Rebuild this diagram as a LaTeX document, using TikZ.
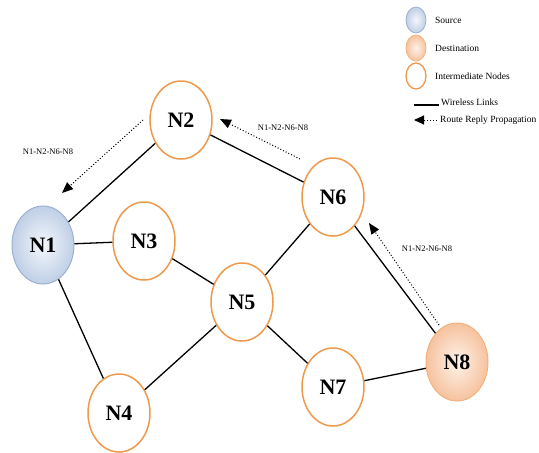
\documentclass[tikz,border=0pt]{standalone}
\usepackage{fontspec}
\setmainfont{Liberation Serif}
\usetikzlibrary{arrows.meta,shapes.geometric}
\definecolor{ringorange}{HTML}{EE9A4D}
\definecolor{srcedge}{HTML}{9CB1D0}
\definecolor{srcin}{HTML}{F4F7FC}
\definecolor{srcout}{HTML}{BFCFE6}
\definecolor{dstedge}{HTML}{F2B27E}
\definecolor{dstin}{HTML}{FEF3EA}
\definecolor{dstout}{HTML}{F6C29E}
\tikzset{
  netnode/.style={ellipse,minimum width=62pt,minimum height=78pt,inner sep=0pt,
    font=\fontsize{22}{24}\selectfont\bfseries},
  midnode/.style={netnode,draw=ringorange,line width=1.5pt,fill=white},
  srcnode/.style={netnode,draw=srcedge,line width=1pt,inner color=srcin,outer color=srcout},
  dstnode/.style={netnode,draw=dstedge,line width=1pt,inner color=dstin,outer color=dstout},
  keynode/.style={ellipse,minimum width=20pt,minimum height=26pt,inner sep=0pt},
  keytext/.style={anchor=west,inner sep=0pt,font=\fontsize{9.5}{11}\selectfont},
  routetext/.style={inner sep=0pt,font=\fontsize{8.5}{10}\selectfont},
  link/.style={line width=1.3pt},
  reply/.style={dotted,line width=1pt,-{Triangle[length=11pt,width=9pt]}}
}
\begin{document}
\begin{tikzpicture}[x=1pt,y=-1pt]
\path[use as bounding box] (0,0) rectangle (539,453);
\node[srcnode] (n1) at (43,245) {N1};
\node[midnode] (n2) at (181,120) {N2};
\node[midnode] (n3) at (144,241) {N3};
\node[midnode] (n4) at (119,413) {N4};
\node[midnode] (n5) at (242,302) {N5};
\node[midnode] (n6) at (333,197) {N6};
\node[midnode] (n7) at (333,387) {N7};
\node[dstnode] (n8) at (457,362) {N8};
\draw[link] (n1) -- (n2);
\draw[link] (n1) -- (n3);
\draw[link] (n1) -- (n4);
\draw[link] (n3) -- (n5);
\draw[link] (n4) -- (n5);
\draw[link] (n5) -- (n6);
\draw[link] (n5) -- (n7);
\draw[link] (n2) -- (n6);
\draw[link] (n6) -- (n8);
\draw[link] (n7) -- (n8);
\coordinate (r1a) at (143,120);\coordinate (r1b) at (62,193);
\coordinate (r2a) at (300,159);\coordinate (r2b) at (220,119);
\coordinate (r3a) at (439,325);\coordinate (r3b) at (369,223);
\draw[reply] (r1a) -- (r1b);
\draw[reply] (r2a) -- (r2b);
\draw[reply] (r3a) -- (r3b);
\node[routetext] (p1) at (48,152) {N1-N2-N6-N8};
\node[routetext] (p2) at (283,128) {N1-N2-N6-N8};
\node[routetext] (p3) at (427,249) {N1-N2-N6-N8};
\node[keynode,draw=srcedge,line width=.8pt,inner color=srcin,outer color=srcout] (k1) at (416,20) {};
\node[keynode,draw=dstedge,line width=.8pt,inner color=dstin,outer color=dstout] (k2) at (416,48) {};
\node[keynode,draw=ringorange,line width=1.3pt] (k3) at (416,76) {};
\node[keytext] (t1) at (435,20) {Source};
\node[keytext] (t2) at (435,48) {Destination};
\node[keytext] (t3) at (435,76) {Intermediate Nodes};
\node[keytext] (t4) at (441,102) {Wireless Links};
\node[keytext] (t5) at (440,120) {Route Reply Propagation};
\coordinate (w1) at (414,105);\coordinate (w2) at (439,105);
\draw[link] (w1) -- (w2);
\coordinate (v1) at (437,120);\coordinate (v2) at (414,120);
\draw[dotted,line width=1pt,-{Triangle[length=10pt,width=9pt]}] (v1) -- (v2);
\end{tikzpicture}
\end{document}
